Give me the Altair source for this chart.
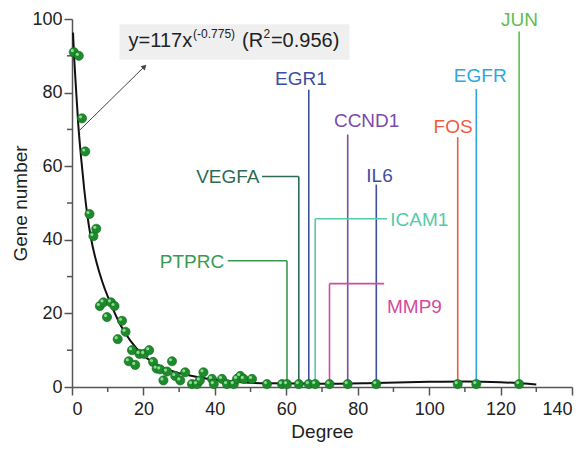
import altair as alt
import pandas as pd

# ---- scatter data (degree vs gene number) ----
deg = [0.5, 1.9, 2.8, 3.7, 4.9, 6.0, 6.8, 7.8, 8.8, 9.8, 10.9, 11.9, 12.8, 14.0, 15.0,
       15.9, 16.8, 17.7, 18.9, 20.2, 21.6, 22.7, 23.7, 24.7, 25.6, 26.6, 28.0, 28.9,
       30.3, 31.7, 33.6, 35.0, 35.8, 36.8, 39.2, 39.7, 42.0, 43.4, 45.3, 46.2, 47.1,
       48.1, 50.4, 54.6, 58.8, 60.2, 63.5, 66.3, 68.1, 72.1, 77.2, 85.2, 108.0, 113.2, 125.2]
genes = [91, 90, 73, 64, 47, 41, 43, 22, 23, 19, 23, 22, 13, 18, 15,
         7, 10, 6, 9, 9, 10, 6.8, 5, 4.8, 1.8, 4.2, 7, 3,
         1.8, 4, 0.8, 0.8, 1.8, 4, 2.2, 0.8, 2.2, 0.8, 0.8, 2.2, 3,
         2.2, 2.2, 0.8, 0.8, 0.8, 0.8, 0.8, 0.8, 0.8, 0.8, 0.8, 0.8, 0.8, 0.8]

# ---- fitted curve ----
curve_x = [0.28, 0.64, 1.06, 1.76, 2.6, 3.44, 4.28, 5.4, 6.8, 8.48, 10.73, 13.53,
           16.33, 19.97, 24.73, 29.49, 35.93, 45, 55, 70, 85, 100, 110, 120, 130]
curve_y = [96.3, 88.9, 82.1, 71.3, 61.8, 53.6, 46.8, 40.0, 34.1, 28.6, 22.9, 16.9,
           12.6, 8.6, 5.6, 3.9, 2.6, 1.5, 1.0, 0.9, 1.1, 1.4, 1.5, 1.3, 0.7]

# ---- hub gene annotations ----
label_names = ["PTPRC", "VEGFA", "EGR1", "ICAM1", "MMP9", "CCND1", "IL6", "FOS", "EGFR", "JUN"]
label_deg = [60.2, 63.5, 66.3, 68.1, 72.1, 77.2, 85.2, 108.0, 113.2, 125.2]
label_top = [34.3, 57.2, 80.8, 45.7, 28.1, 68.6, 55.0, 67.9, 81.0, 96.6]
label_colors = ["#3a9a4e", "#2d6b52", "#3b4f9c", "#55cba8", "#d24ba0",
                "#7c4aa8", "#3f4fa2", "#f15a3f", "#2fa6dc", "#5ec04f"]
text_x = [42.6, 52.5, 64.1, 89.1, 88.2, 82.5, 86.1, 106.7, 114.3, 125.3]
text_y = [32.3, 55.4, 82.0, 43.7, 20.0, 70.7, 55.8, 69.1, 82.9, 98.0]
text_align = ["right", "right", "center", "left", "left",
              "center", "center", "center", "center", "center"]
conn_names = ["PTPRC", "VEGFA", "ICAM1", "MMP9"]
conn_x1 = [43.6, 53.2, 68.1, 72.1]
conn_x2 = [60.2, 63.5, 88.2, 87.4]
conn_y = [34.3, 57.2, 45.7, 28.1]

# ---- axis ticks ----
x_major = list(range(0, 141, 20))
x_minor = list(range(10, 141, 20))
y_major = list(range(0, 101, 20))
y_minor = list(range(10, 101, 20))

# ---- equation box ----
eq_main = ["y=117x", "(R", "=0.956)"]
eq_main_x = [15.85, 47.6, 55.7]
eq_sup = ["(-0.775)", "2"]
eq_sup_x = [33.9, 53.6]
eq_box = {"x": 13.3, "x2": 77.7, "y": 88.9, "y2": 98.6}
arrow = {"x": [1.85, 20.3], "y": [69.5, 87.1]}

FONT = "Liberation Sans"
AX = "#555"
XS = alt.Scale(domain=[0, 140], nice=False)
YS = alt.Scale(domain=[0, 100], nice=False)
W, H = 500, 368

common = dict(grid=False, domainColor=AX, tickColor=AX, domainWidth=1.5, tickWidth=1.5,
              tickSize=8, labelFontSize=18, titleFontSize=19, labelFont=FONT,
              titleFont=FONT, labelColor="#222", titleColor="#222",
              titleFontWeight="normal")
xaxis = alt.Axis(values=x_major, title="Degree", labelPadding=5, titlePadding=4, **common)
yaxis = alt.Axis(values=y_major, title="Gene number", labelPadding=2, titlePadding=1, **common)


def X(f):
    return alt.X(f, scale=XS, axis=xaxis)


def Y(f):
    return alt.Y(f, scale=YS, axis=yaxis)


pts = pd.DataFrame({"deg": deg, "genes": genes})
curve = pd.DataFrame({"x": curve_x, "y": curve_y})
lab = pd.DataFrame({"name": label_names, "deg": label_deg, "top": label_top,
                    "bot": [0.8] * len(label_names),
                    "tx": text_x, "ty": text_y, "align": text_align})
conn = pd.DataFrame({"name": conn_names, "x1": conn_x1, "x2": conn_x2, "y": conn_y})
color = alt.Color("name:N", scale=alt.Scale(domain=label_names, range=label_colors), legend=None)

box = alt.Chart(pd.DataFrame([eq_box])).mark_rect(color="#efefef").encode(
    x=X("x:Q"), x2="x2:Q", y=Y("y:Q"), y2="y2:Q")

# minor ticks (outside the plot area, positioned through the scales)
xminor = alt.Chart(pd.DataFrame({"v": x_minor})).mark_rule(color=AX, strokeWidth=1.5).encode(
    x=X("v:Q"), y=alt.value(H), y2=alt.value(H + 5))
yminor = alt.Chart(pd.DataFrame({"v": y_minor})).mark_rule(color=AX, strokeWidth=1.5).encode(
    y=Y("v:Q"), x=alt.value(0), x2=alt.value(-5))

curve_l = alt.Chart(curve).mark_line(color="#111", strokeWidth=2, interpolate="monotone").encode(
    x=X("x:Q"), y=Y("y:Q"))

vlines = alt.Chart(lab).mark_rule(strokeWidth=1.6).encode(
    x=X("deg:Q"), y=Y("bot:Q"), y2="top:Q", color=color)
hlines = alt.Chart(conn).mark_rule(strokeWidth=1.6).encode(
    x=X("x1:Q"), x2="x2:Q", y=Y("y:Q"), color=color)

balls = alt.Chart(pts).mark_circle(size=85, color="#1d8a2c", opacity=1,
                                   stroke="#0f6b1f", strokeWidth=0.6).encode(
    x=X("deg:Q"), y=Y("genes:Q"))
shine = alt.Chart(pts).mark_circle(size=10, color="#9be39b", opacity=0.9,
                                   xOffset=-1.5, yOffset=-1.5).encode(
    x=X("deg:Q"), y=Y("genes:Q"))

texts = []
for al in ["left", "center", "right"]:
    texts.append(alt.Chart(lab).transform_filter(alt.datum.align == al).mark_text(
        align=al, baseline="alphabetic", fontSize=19, font=FONT).encode(
        x=X("tx:Q"), y=Y("ty:Q"), text="name:N", color=color))

eq1 = alt.Chart(pd.DataFrame({"t": eq_main, "x": eq_main_x, "y": [92.5] * 3})).mark_text(
    align="left", baseline="alphabetic", fontSize=20, font=FONT, color="#222").encode(
    x=X("x:Q"), y=Y("y:Q"), text="t:N")
eq2 = alt.Chart(pd.DataFrame({"t": eq_sup, "x": eq_sup_x, "y": [94.8] * 2})).mark_text(
    align="left", baseline="alphabetic", fontSize=12, font=FONT, color="#222").encode(
    x=X("x:Q"), y=Y("y:Q"), text="t:N")

arr_df = pd.DataFrame(arrow)
arr_line = alt.Chart(arr_df).mark_line(color="#444", strokeWidth=1).encode(
    x=X("x:Q"), y=Y("y:Q"))
arr_head = alt.Chart(arr_df.tail(1)).mark_point(shape="triangle-up", angle=45, size=35,
                                                filled=True, color="#444", opacity=1).encode(
    x=X("x:Q"), y=Y("y:Q"))

chart = alt.layer(box, xminor, yminor, curve_l, vlines, hlines, balls, shine, *texts,
                  eq1, eq2, arr_line, arr_head).properties(
    width=W, height=H,
    autosize=alt.AutoSizeParams(type="none"),
    padding={"left": 64, "top": 11, "right": 8, "bottom": 58},
    background="white",
).configure_view(stroke=None)

chart.save("out.html", embed_options={"renderer": "svg", "actions": False})
